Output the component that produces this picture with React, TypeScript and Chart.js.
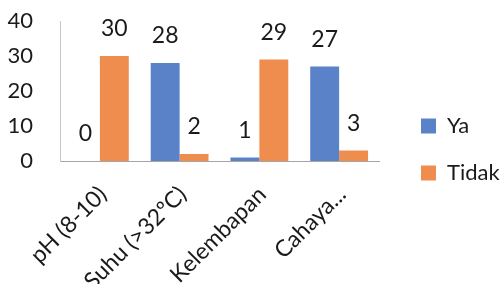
import React, { useEffect, useRef } from "react";
import { Chart, registerables } from "chart.js";

Chart.register(...registerables);

const categories = ["pH (8-10)", "Suhu (>32ºC)", "Kelembapan", "Cahaya..."];
const yaValues = [0, 28, 1, 27];
const tidakValues = [30, 2, 29, 3];
const yTicks = [0, 10, 20, 30, 40];

const FONT = "Lato, 'Open Sans', sans-serif";

const dataLabelPlugin = {
  id: "dataLabels",
  afterDatasetsDraw(chart: any) {
    const ctx = chart.ctx;
    ctx.save();
    ctx.font = `23px ${FONT}`;
    ctx.fillStyle = "#1a1a1a";
    ctx.textAlign = "center";
    ctx.textBaseline = "middle";
    chart.data.datasets.forEach((ds: any, i: number) => {
      const meta = chart.getDatasetMeta(i);
      meta.data.forEach((el: any, j: number) => {
        ctx.fillText(String(ds.data[j]), el.x, el.y - 27);
      });
    });
    ctx.restore();
  },
};

// Fix the legend width and nudge its position to match the reference layout
const legendLayoutPlugin = {
  id: "legendLayout",
  beforeLayout(chart: any) {
    const lg = chart.legend;
    if (lg && !lg._patchedFit) {
      const orig = lg.fit.bind(lg);
      lg.fit = function () {
        orig();
        this.width = 122;
      };
      lg._patchedFit = true;
    }
  },
  afterLayout(chart: any) {
    const lg = chart.legend;
    if (lg) {
      lg.left += 17;
      lg.right += 17;
      lg.top -= 3;
      lg.bottom -= 3;
    }
  },
};

export default function App() {
  const ref = useRef<HTMLCanvasElement>(null);
  useEffect(() => {
    document.body.style.margin = "0";
    const chart = new Chart(ref.current!, {
      type: "bar",
      data: {
        labels: categories,
        datasets: [
          { label: "Ya", data: yaValues, backgroundColor: "#5A82C9" },
          { label: "Tidak", data: tidakValues, backgroundColor: "#EF8D4F" },
        ],
      },
      options: {
        animation: false,
        responsive: true,
        maintainAspectRatio: false,
        layout: { autoPadding: false, padding: { left: 0, top: 21, right: 0, bottom: 0 } },
        datasets: { bar: { barPercentage: 1, categoryPercentage: 0.725 } },
        plugins: {
          tooltip: { enabled: false },
          legend: {
            position: "right",
            labels: {
              boxWidth: 15,
              boxHeight: 15,
              padding: 25,
              color: "#1a1a1a",
              font: { family: FONT, size: 22 },
            },
          },
        },
        scales: {
          x: {
            grid: { display: false, drawTicks: false },
            border: { display: true, color: "#a6a6a6" },
            afterFit: (axis: any) => {
              axis.height = 123;
              axis.paddingLeft = 0;
              axis.paddingRight = 0;
            },
            ticks: {
              minRotation: 45,
              maxRotation: 45,
              padding: 20,
              labelOffset: 3,
              color: "#1a1a1a",
              font: { family: FONT, size: 23 },
            },
          },
          y: {
            min: 0,
            max: 40,
            afterBuildTicks: (axis: any) => {
              axis.ticks = yTicks.map((v) => ({ value: v }));
            },
            afterFit: (axis: any) => {
              axis.width = 60;
              axis.paddingTop = 0;
              axis.paddingBottom = 0;
            },
            grid: { display: false, drawTicks: false },
            border: { display: true, color: "#c8c8c8" },
            ticks: {
              padding: 27,
              color: "#1a1a1a",
              font: { family: FONT, size: 22 },
            },
          },
        },
      },
      plugins: [dataLabelPlugin, legendLayoutPlugin],
    });
    return () => chart.destroy();
  }, []);
  return (
    <div style={{ width: 501, height: 284, position: "relative" }}>
      <canvas ref={ref} />
    </div>
  );
}
